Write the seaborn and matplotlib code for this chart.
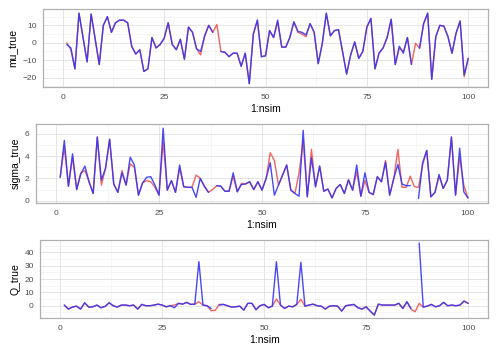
import numpy as np
import pandas as pd
import matplotlib
matplotlib.use("Agg")
import matplotlib.pyplot as plt
from matplotlib.ticker import AutoMinorLocator, FixedLocator
import seaborn as sns

nan = np.nan
idx = list(range(1, 101))

mu_blue = [-1, -3, -15, 17, 3, -11, 16.5, 2, -12.5, 10,
           15, 6, 11.5, 13, 13, 11.5, -2, -6.5, -4, -16.5,
           -15, 3, -3, -1, 2.5, 11.5, -1, -4, 2, -9.5,
           9, 6, -3.5, -5, 4, 10, 6, nan, -5, -5.5,
           -8, -6, -6, -13.5, -6, -23.5, 5, 13, -8, -7.5,
           7, 3, 13, -2.5, -2.5, 3, 12, 6.5, 6, 4.5,
           11, 6, -12, -0.5, 17, 4, 7, 7.5, -5, -18,
           -7, 0.5, -9, -5, 9, 14, -15, -6, -3, 3,
           13.5, -12.5, -2, -6, 3, -12.5, nan, -3, 11, 17,
           -21, 3.5, 10, 9.5, 3.5, -6, 5.5, 12.5, -18.5, -9]
mu_red = [0, -4, -15, 17, 3, -11, 16.5, 2, -12.5, 10,
          15, 6, 11.5, 13, 13, 11.5, -2, -6.5, -4, -16.5,
          -15, 3, -3, -1, 2.5, 11.5, -1, -4, 2, -9.5,
          9, 6, -3.5, -7, 4, 10, 6, 10.5, -5, -5.5,
          -8, -6, -6, -13.5, -6, -23.5, 5, 13, -8, -7.5,
          7, 3, 12, -2.5, -2.5, 3, 12, 6, 5, 3.5,
          11, 6, -12, -0.5, 17, 4, 7, 7.5, -5, -18,
          -7, 0.5, -9, -5, 9, 14, -15, -6, -3, 3,
          13.5, -12.5, -3, -5, 3, -12.5, -0.3, -3.2, 11, 17,
          -21, 3.5, 10, 9.5, 3.5, -6, 5.5, 12.5, -19.5, -9]

sigma_blue = [2.1, 5.4, 1.3, 4.2, 1.0, 2.4, 3.1, 1.7, 0.65, 5.7,
              1.85, 2.9, 5.5, 1.5, 0.75, 2.5, 1.4, 3.9, 3.2, 0.5,
              1.6, 2.1, 2.15, 1.4, 0.5, 6.5, 0.95, 1.8, 0.75, 3.2,
              1.25, 1.2, 1.2, 0.3, 2.0, 1.3, 0.75, nan, 1.35, 1.3,
              0.85, 0.85, 2.5, 0.8, 1.45, 1.5, 1.7, 1.0, 1.7, 0.95,
              2.0, 3.4, 0.5, 1.4, 2.3, 3.2, 0.95, 0.65, 0.4, 6.3,
              0.35, 3.85, 1.25, 3.1, 0.85, 1.05, 0.25, 1.1, 1.45, 0.65,
              1.85, 0.95, 3.2, 0.4, 2.5, 0.75, 0.55, 2.15, 1.7, 3.45,
              0.5, 2.0, 3.25, 1.5, 1.35, 1.35, nan, 0.2, 3.4, 4.5,
              0.35, 0.75, 2.35, 1.1, 1.85, 5.7, 0.5, 4.7, 0.8, 0.25]
sigma_red = [2.1, 4.8, 1.3, 3.9, 1.0, 2.5, 2.7, 1.7, 0.65, 5.7,
             1.4, 2.9, 5.5, 1.5, 0.75, 2.7, 1.4, 3.3, 3.0, 0.5,
             1.6, 1.8, 1.7, 1.2, 0.5, 5.3, 0.95, 1.8, 0.75, 2.9,
             1.25, 1.2, 1.2, 2.3, 2.0, 1.3, 0.75, 1.0, 1.35, 1.3,
             0.85, 0.85, 2.2, 0.8, 1.55, 1.5, 1.7, 1.0, 1.7, 0.95,
             2.0, 4.3, 3.6, 1.4, 2.3, 3.2, 0.95, 0.65, 2.5, 5.4,
             0.35, 4.6, 1.25, 3.1, 0.85, 1.05, 0.25, 1.1, 1.45, 0.65,
             1.9, 0.95, 2.6, 0.4, 1.8, 0.75, 0.55, 2.15, 1.7, 3.6,
             0.5, 2.0, 4.6, 1.2, 1.2, 2.2, 1.25, 1.2, 3.2, 4.5,
             0.35, 0.75, 2.2, 1.1, 1.85, 5.7, 0.5, 3.9, 1.4, 0.25]

q_blue = [0.5, -2.5, -1, -0.3, -2.5, 2.2, -1, -0.8, 0.5, -1.5,
          -0.5, 2.2, 0, -1, 0.5, 0.5, 0, 0.5, -2.5, 1,
          0, 0, 0.5, 1.2, 0.5, -0.8, 0, -1.5, 1.8, 1.2,
          2.5, 1, 1.2, 33, 0.5, 0, -2, nan, 0.5, 1,
          0, -1, -0.8, -0.3, -3.3, 1.8, 1.8, -3, 0, 1,
          -1.5, -0.3, 33, 0.5, -2, -0.3, -0.8, 1, 32.5, -0.3,
          0.5, 1.2, 0, -0.3, -2.5, -0.3, 0, -0.3, -4, 0,
          0.5, 1, -1.5, -2.5, -0.8, -4, -7, 1.2, 0.5, 0.5,
          0.5, 0.5, 1.8, -2, 3, -2, nan, 47, -1, -0.3,
          1, -0.8, 0, 2.5, 0, 0.5, 0, 0.5, 3.5, 1.8]
q_red = [0.5, -2.5, -1, -0.3, -2.5, 2.2, -1, -0.8, 0.5, -1.5,
         -0.5, 2.2, 0, -1, 0.5, 0.5, 0, 0.5, -2.5, 1,
         0, 0, 0.5, 1.2, 0.5, -0.8, 0, 0.5, 1.8, 1.2,
         2.5, 1, 1.2, 3, 0.5, 0, -3.7, -3.5, 1, 1,
         0, -1, -0.8, -0.3, -3.3, 1.8, 1.8, -3, 0, 1,
         -1.5, -0.3, 5, 0.5, -2, -0.3, -0.8, 1, 4.8, -0.3,
         0.5, 1.2, 0, -0.3, -2.5, -0.3, 0, -0.3, -4, 0,
         0.5, 1, -1.5, -2.5, -0.8, -4, -7, 1.2, 0.5, 0.5,
         0.5, 0.5, 1.8, -2, 3, -2.5, -4.5, 1.8, -1, -0.3,
         1, -0.8, 0, 2.5, 0, 0.5, 0, 0.5, 3.5, 1.8]

panels = [
    ("mu_true", mu_red, mu_blue, [-20, -10, 0, 10], (-25.6, 19.4)),
    ("sigma_true", sigma_red, sigma_blue, [0, 2, 4, 6], (-0.23, 6.87)),
    ("Q_true", q_red, q_blue, [0, 10, 20, 30, 40], (-9.4, 49.2)),
]
x_ticks = [0, 25, 50, 75, 100]

sns.set_theme(style="white")
plt.rcParams["font.family"] = ["Liberation Sans", "DejaVu Sans"]

W, H = 500, 348
fig = plt.figure(figsize=(W / 100, H / 100), dpi=100)
# pixel boxes: left, right, top, bottom
boxes = [(42.7, 488.3, 9, 87.3), (35.7, 488.3, 124, 203.3), (40, 488.3, 240, 318.3)]


def long_frame(red, blue):
    parts = []
    for name, vals in (("est", red), ("true", blue)):
        v = pd.Series(vals, dtype=float)
        seg = v.isna().cumsum()
        parts.append(pd.DataFrame({"i": idx, "val": v, "series": name,
                                   "seg": seg}))
    df = pd.concat(parts, ignore_index=True)
    return df.dropna(subset=["val"])


for (ylab, red, blue, yt, ylim), (l, r, t, b) in zip(panels, boxes):
    ax = fig.add_axes([l / W, (H - b) / H, (r - l) / W, (b - t) / H])
    df = long_frame(red, blue)
    sns.lineplot(data=df[df.series == "est"], x="i", y="val", units="seg",
                 estimator=None, sort=False, color="#F03030",
                 legend=False, lw=1.0, alpha=0.75, ax=ax)
    sns.lineplot(data=df[df.series == "true"], x="i", y="val", units="seg",
                 estimator=None, sort=False, color="#3535F5",
                 legend=False, lw=1.0, alpha=0.9, ax=ax)
    ax.set_xlim(-4.95, 104.95)
    ax.set_ylim(*ylim)
    ax.xaxis.set_major_locator(FixedLocator(x_ticks))
    ax.yaxis.set_major_locator(FixedLocator(yt))
    ax.xaxis.set_minor_locator(AutoMinorLocator(2))
    ax.yaxis.set_minor_locator(AutoMinorLocator(2))
    ax.grid(True, which="major", color="#E0E0E0", lw=0.6)
    ax.grid(True, which="minor", color="#EFEFEF", lw=0.4)
    ax.set_axisbelow(True)
    for s in ax.spines.values():
        s.set_color("#B0B0B0")
        s.set_linewidth(0.9)
    ax.tick_params(axis="both", which="major", length=2.5, width=0.6,
                   color="#9A9A9A", labelsize=6.0, labelcolor="#4D4D4D",
                   pad=2)
    ax.tick_params(which="minor", length=0)
    ax.set_xlabel("1:nsim", fontsize=7.5, color="black", labelpad=2.5)
    ax.set_ylabel(ylab, fontsize=7.5, color="black", labelpad=3)

fig.savefig("out.png", dpi=100, facecolor="white")
